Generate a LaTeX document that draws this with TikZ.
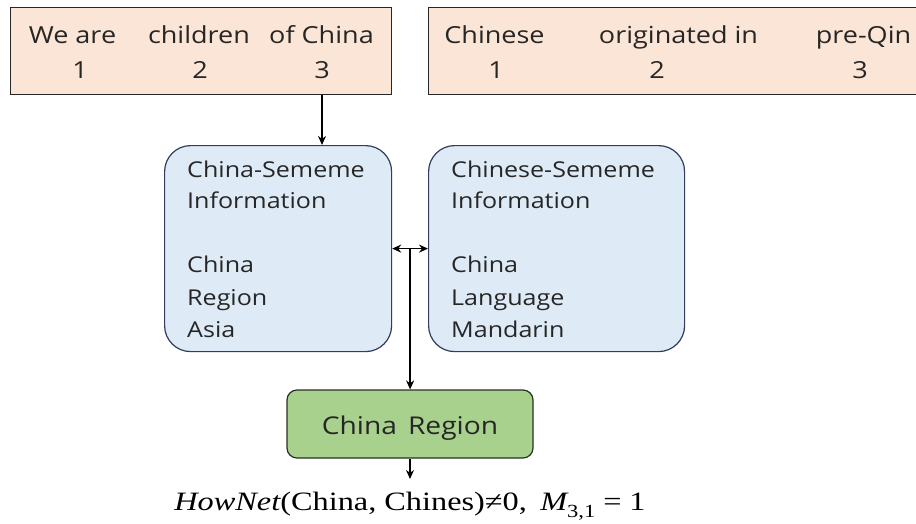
\documentclass[tikz,border=0pt]{standalone}
\usepackage{fontspec}
\setmainfont[FakeStretch=1.15]{Open Sans}
\newfontfamily\formfont[FakeStretch=1.22]{Liberation Serif}
\usetikzlibrary{arrows.meta,calc}
\definecolor{peach}{RGB}{251,229,214}
\definecolor{lblue}{RGB}{222,235,247}
\definecolor{dblue}{RGB}{47,62,92}
\definecolor{lgreen}{RGB}{169,209,142}
\definecolor{dgreen}{RGB}{40,50,35}
\tikzset{
  x=1pt, y=-1pt,
  sentbox/.style={draw=black!85, fill=peach, line width=1.2pt, inner sep=0pt, anchor=north west, minimum height=87pt},
  semebox/.style={draw=dblue, fill=lblue, line width=1.2pt, rounded corners=26pt, inner sep=0pt, anchor=north west, minimum height=206pt},
  resbox/.style={draw=dgreen, fill=lgreen, line width=1.2pt, rounded corners=10pt, inner sep=0pt},
  word/.style={inner sep=0pt, anchor=base, font=\fontsize{23.5}{27}\selectfont, text=black!85},
  sline/.style={inner sep=0pt, anchor=base west, font=\fontsize{21.8}{26}\selectfont, text=black!85},
  conn/.style={line width=1.6pt, -{Stealth[length=9pt,width=8pt]}},
  dconn/.style={line width=1.6pt, {Stealth[length=9pt,width=8pt]}-{Stealth[length=9pt,width=8pt]}}
}
\begin{document}
\begin{tikzpicture}
\clip (0,0) rectangle (916,523);
\fill[white] (0,0) rectangle (916,523);
% top sentence boxes
\node[sentbox, minimum width=381pt] (s1) at (10,7) {};
\node[sentbox, minimum width=500pt] (s2) at (428,7) {};
% words box 1
\node[word] (w11) at (72.5,43.5) {We are};
\node[word] (w12) at (199,43.5) {children};
\node[word] (w13) at (321.5,43.5) {of China};
\node[word] (n11) at (80,78.5) {1};
\node[word] (n12) at (200,78.5) {2};
\node[word] (n13) at (322,78.5) {3};
% words box 2
\node[word] (w21) at (494.5,43.5) {Chinese};
\node[word] (w22) at (678.5,43.5) {originated in};
\node[word] (w23) at (863.5,43.5) {pre-Qin};
\node[word] (n21) at (496,78.5) {1};
\node[word] (n22) at (657,78.5) {2};
\node[word] (n23) at (860,78.5) {3};
% sememe boxes
\node[semebox, minimum width=227pt] (b1) at (164,145) {};
\node[semebox, minimum width=256pt] (b2) at (428,145) {};
\node[sline] (l11) at (187,177) {China-Sememe};
\node[sline] (l12) at (187,208.5) {Information};
\node[sline] (l13) at (187,272.5) {China};
\node[sline] (l14) at (187,305) {Region};
\node[sline] (l15) at (187,337) {Asia};
\node[sline] (l21) at (451,177) {Chinese-Sememe};
\node[sline] (l22) at (451,208.5) {Information};
\node[sline] (l23) at (451,272.5) {China};
\node[sline] (l24) at (451,305) {Language};
\node[sline] (l25) at (451,337) {Mandarin};
% result box
\node[resbox, minimum width=246pt, minimum height=68pt] (g) at (410,424) {};
\node[inner sep=0pt, anchor=base, font=\fontsize{24.5}{28}\selectfont, text=black!85] (gt) at (410,434.5) {China\hspace{0.45em}Region};
% formula
\node[inner sep=0pt, anchor=base, font=\formfont\fontsize{26.5}{30}\selectfont] (f) at (410,510)
  {{\itshape HowNet}(China, Chines)≠0,\hspace{0.5em}{\itshape M}\raisebox{-0.28em}{\fontsize{18.5}{20}\selectfont 3,1}\hspace{0.3em}=\hspace{0.3em}1};
% connectors
\coordinate (top3) at (n13.south |- s1.south);
\draw[conn] (top3) -- (top3 |- b1.north);
\draw[dconn] (b1.east) -- (b2.west);
\coordinate (mid) at ($(b1.east)!0.5!(b2.west)$);
\draw[conn] (mid) -- (mid |- g.north);
\coordinate (fend) at (g.south |- 0,479);
\draw[conn] (g.south) -- (fend);
\end{tikzpicture}
\end{document}
